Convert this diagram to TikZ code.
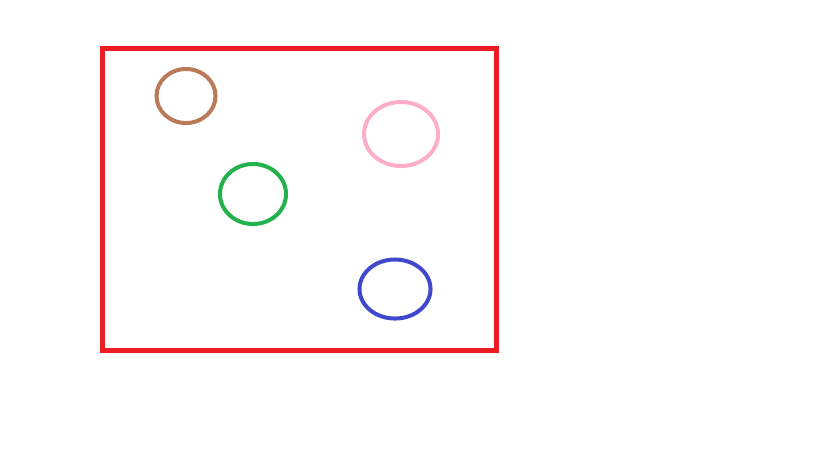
\documentclass[tikz,border=0pt]{standalone}
\usepackage{xcolor}

\definecolor{boxred}{RGB}{237,28,36}
\definecolor{ringbrown}{RGB}{185,122,87}
\definecolor{ringpink}{RGB}{255,174,201}
\definecolor{ringgreen}{RGB}{34,177,76}
\definecolor{ringblue}{RGB}{63,72,204}

\begin{document}
\begin{tikzpicture}[x=0.01cm, y=-0.01cm,
  frame/.style={draw=boxred, line width=1.42pt},
  ring/.style={line width=1.14pt}]

  \useasboundingbox (0,0) rectangle (819,460);

  % Outer box
  \draw[frame] (102.5,48.5) rectangle (496,350);

  % Rings
  \draw[ring, ringbrown] (186,96) ellipse [x radius=0.295cm, y radius=0.27cm];
  \draw[ring, ringpink] (401,134) ellipse [x radius=0.37cm, y radius=0.32cm];
  \draw[ring, ringgreen] (253,194) ellipse [x radius=0.33cm, y radius=0.30cm];
  \draw[ring, ringblue] (395,289) ellipse [x radius=0.355cm, y radius=0.295cm];

\end{tikzpicture}
\end{document}
